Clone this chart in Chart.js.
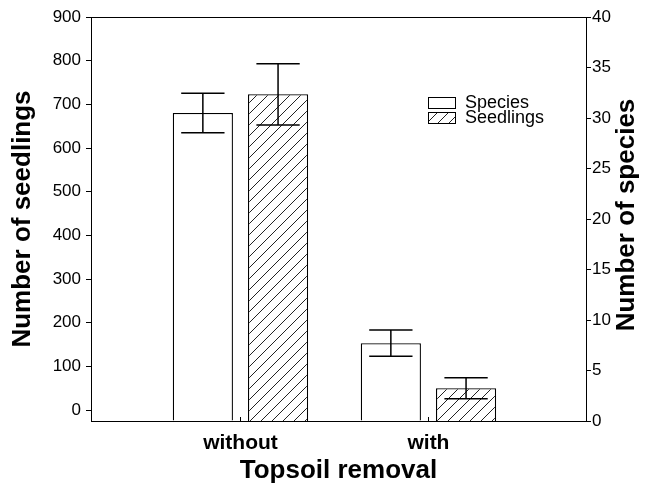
<!DOCTYPE html>
<html>
<head>
<meta charset="utf-8">
<script src="https://cdn.jsdelivr.net/npm/chart.js@4"></script>
<style>
  html, body { margin: 0; padding: 0; background: #fff; }
  #wrap { width: 645px; height: 486px; }
</style>
</head>
<body>
<div id="wrap"><canvas id="myChart" width="645" height="486"></canvas></div>
<script>
'use strict';

// values
const categories = ['without', 'with'];
const speciesMean = [30.5, 7.7];      // right axis
const speciesErr = [1.95, 1.3];
const seedlingsMean = [723, 50];      // left axis
const seedlingsErr = [70, 24];
const seedlingTicks = [0, 100, 200, 300, 400, 500, 600, 700, 800, 900];
const speciesTicks = [0, 5, 10, 15, 20, 25, 30, 35, 40];
const seedlingMin = -25; // left axis starts a bit below 0

const FONT = "'Liberation Sans', Arial, sans-serif";
const chartCanvas = document.getElementById('myChart');

// diagonal hatch for the seedlings bars
function makeHatch() {
  const size = 11;
  const c = document.createElement('canvas');
  c.width = size;
  c.height = size;
  const g = c.getContext('2d');
  g.fillStyle = '#fff';
  g.fillRect(0, 0, size, size);
  g.strokeStyle = '#222';
  g.lineWidth = 1;
  g.beginPath();
  g.moveTo(0, size);
  g.lineTo(size, 0);
  g.moveTo(-size / 2, size / 2);
  g.lineTo(size / 2, -size / 2);
  g.moveTo(size / 2, size * 1.5);
  g.lineTo(size * 1.5, size / 2);
  g.stroke();
  return chartCanvas.getContext('2d').createPattern(c, 'repeat');
}

// error bars, frame, legend and right title
const extrasPlugin = {
  id: 'extras',
  afterDatasetsDraw(chart) {
    const ctx = chart.ctx;
    ctx.save();
    ctx.strokeStyle = '#000';
    ctx.lineWidth = 1.5;
    chart.data.datasets.forEach(function(ds, di) {
      const meta = chart.getDatasetMeta(di);
      const yScale = chart.scales[ds.yAxisID];
      meta.data.forEach(function(bar, i) {
        const m = ds.means[i];
        const e = ds.errs[i];
        const yTop = yScale.getPixelForValue(m + e);
        const yBot = yScale.getPixelForValue(m - e);
        const half = bar.width * 0.36;
        ctx.beginPath();
        ctx.moveTo(bar.x, yTop);
        ctx.lineTo(bar.x, yBot);
        ctx.moveTo(bar.x - half, yTop);
        ctx.lineTo(bar.x + half, yTop);
        ctx.moveTo(bar.x - half, yBot);
        ctx.lineTo(bar.x + half, yBot);
        ctx.stroke();
      });
    });
    ctx.restore();
  },
  afterDraw(chart) {
    const ctx = chart.ctx;
    const a = chart.chartArea;
    ctx.save();
    ctx.strokeStyle = '#000';
    ctx.lineWidth = 1;
    ctx.strokeRect(Math.round(a.left) + 0.5, Math.round(a.top) + 0.5,
      Math.round(a.right - a.left), Math.round(a.bottom - a.top));

    // small inward ticks at the categories
    const xs = chart.scales.x;
    ctx.beginPath();
    categories.forEach(function(c, i) {
      const px = Math.round(xs.getPixelForValue(i + 1)) + 0.5;
      ctx.moveTo(px, a.bottom);
      ctx.lineTo(px, a.bottom - 4);
    });
    ctx.stroke();

    // legend
    ctx.font = '18px ' + FONT;
    ctx.textBaseline = 'middle';
    ctx.textAlign = 'left';
    chart.data.datasets.forEach(function(ds, i) {
      const bx = 428, by = 97 + i * 15;
      ctx.fillStyle = ds.backgroundColor;
      ctx.fillRect(bx, by, 27, 11);
      ctx.strokeRect(bx + 0.5, by + 0.5, 27, 11);
      ctx.fillStyle = '#000';
      ctx.fillText(ds.label, 465, by + 6);
    });

    // right axis title reads bottom to top
    ctx.font = 'bold 26px ' + FONT;
    ctx.textAlign = 'center';
    ctx.translate(627, (a.top + a.bottom) / 2 - 4);
    ctx.rotate(-Math.PI / 2);
    ctx.fillText('Number of species', 0, 0);
    ctx.restore();
  }
};

function buildData(means) {
  return categories.map(function(c, i) {
    return { x: i + 1, y: means[i] };
  });
}

const hatch = makeHatch();

new Chart(chartCanvas, {
  type: 'bar',
  data: {
    datasets: [{
      label: 'Species',
      data: buildData(speciesMean),
      means: speciesMean,
      errs: speciesErr,
      yAxisID: 'y2',
      backgroundColor: '#fff',
      borderColor: '#000',
      borderWidth: 1.3
    }, {
      label: 'Seedlings',
      data: buildData(seedlingsMean),
      means: seedlingsMean,
      errs: seedlingsErr,
      yAxisID: 'y',
      base: seedlingMin,
      backgroundColor: hatch,
      borderColor: '#000',
      borderWidth: 1.3
    }]
  },
  options: {
    responsive: false,
    animation: false,
    devicePixelRatio: 1,
    categoryPercentage: 0.8,
    barPercentage: 0.8,
    layout: { padding: { top: 17, left: 0, right: 0, bottom: 0 } },
    plugins: {
      legend: { display: false },
      tooltip: { enabled: false }
    },
    scales: {
      x: {
        type: 'linear',
        offset: false,
        min: 0.205,
        max: 2.838,
        afterBuildTicks: function(scale) {
          scale.ticks = categories.map(function(c, i) { return { value: i + 1 }; });
        },
        afterFit: function(scale) { scale.height = 65; },
        grid: { display: false, offset: false },
        border: { display: true, color: '#000', width: 1 },
        ticks: {
          color: '#000',
          padding: 2,
          font: { family: FONT, size: 21, weight: 'bold' },
          callback: function(v) { return categories[v - 1]; }
        },
        title: {
          display: true,
          text: 'Topsoil removal',
          color: '#000',
          font: { family: FONT, size: 26, weight: 'bold' },
          padding: { top: 0, bottom: 0 }
        }
      },
      y: {
        position: 'left',
        min: seedlingMin,
        max: 900,
        afterBuildTicks: function(scale) {
          scale.ticks = seedlingTicks.map(function(v) { return { value: v }; });
        },
        afterFit: function(scale) { scale.width = 91; },
        grid: { drawOnChartArea: false, drawTicks: true, tickLength: 5, color: '#000' },
        border: { display: true, color: '#000', width: 1 },
        ticks: {
          color: '#000',
          padding: 5,
          font: { family: FONT, size: 17 }
        },
        title: {
          display: true,
          text: 'Number of seedlings',
          color: '#000',
          font: { family: FONT, size: 26, weight: 'bold' },
          padding: { top: 7, bottom: 0 }
        }
      },
      y2: {
        position: 'right',
        min: 0,
        max: 40,
        afterBuildTicks: function(scale) {
          scale.ticks = speciesTicks.map(function(v) { return { value: v }; });
        },
        afterFit: function(scale) { scale.width = 59; },
        grid: { drawOnChartArea: false, drawTicks: true, tickLength: 5, color: '#000' },
        border: { display: true, color: '#000', width: 1 },
        ticks: {
          color: '#000',
          padding: 1,
          font: { family: FONT, size: 17 }
        }
      }
    }
  },
  plugins: [extrasPlugin]
});
</script>
</body>
</html>
